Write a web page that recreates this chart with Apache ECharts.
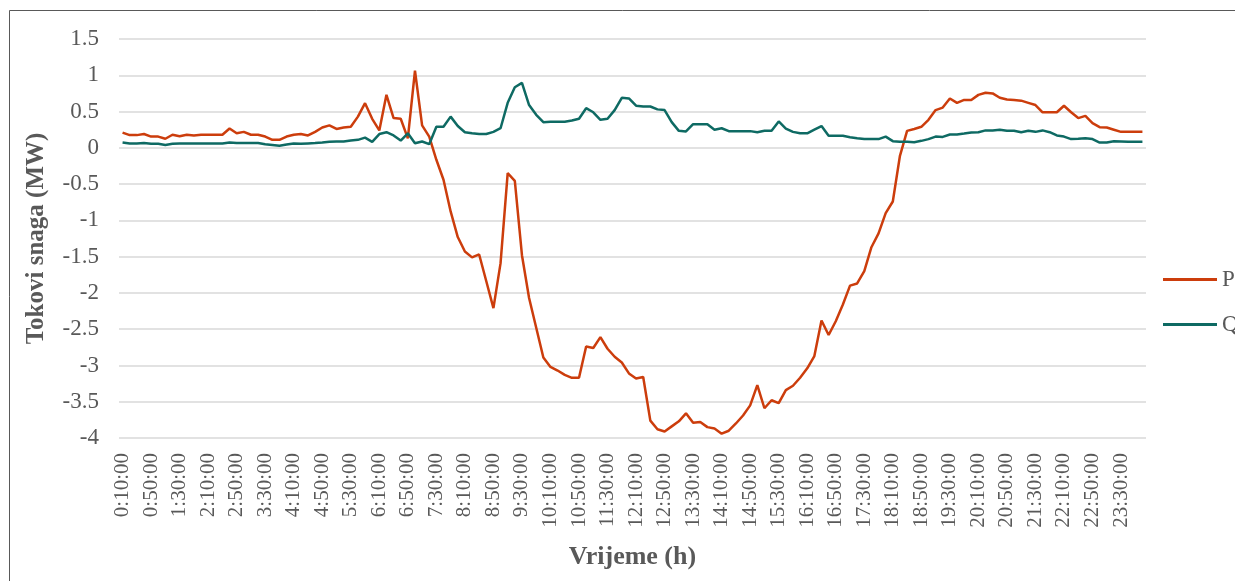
<!DOCTYPE html>
<html>
<head>
<meta charset="utf-8">
<script src="https://cdn.jsdelivr.net/npm/echarts@6/dist/echarts.min.js"></script>
<style>
html,body{margin:0;padding:0;background:#fff;}
#chart{width:1235px;height:581px;}
</style>
</head>
<body>
<div id="chart"></div>
<script>
const times = [
"0:10:00","0:20:00","0:30:00","0:40:00","0:50:00","1:00:00","1:10:00","1:20:00","1:30:00","1:40:00","1:50:00","2:00:00",
"2:10:00","2:20:00","2:30:00","2:40:00","2:50:00","3:00:00","3:10:00","3:20:00","3:30:00","3:40:00","3:50:00","4:00:00",
"4:10:00","4:20:00","4:30:00","4:40:00","4:50:00","5:00:00","5:10:00","5:20:00","5:30:00","5:40:00","5:50:00","6:00:00",
"6:10:00","6:20:00","6:30:00","6:40:00","6:50:00","7:00:00","7:10:00","7:20:00","7:30:00","7:40:00","7:50:00","8:00:00",
"8:10:00","8:20:00","8:30:00","8:40:00","8:50:00","9:00:00","9:10:00","9:20:00","9:30:00","9:40:00","9:50:00","10:00:00",
"10:10:00","10:20:00","10:30:00","10:40:00","10:50:00","11:00:00","11:10:00","11:20:00","11:30:00","11:40:00","11:50:00","12:00:00",
"12:10:00","12:20:00","12:30:00","12:40:00","12:50:00","13:00:00","13:10:00","13:20:00","13:30:00","13:40:00","13:50:00","14:00:00",
"14:10:00","14:20:00","14:30:00","14:40:00","14:50:00","15:00:00","15:10:00","15:20:00","15:30:00","15:40:00","15:50:00","16:00:00",
"16:10:00","16:20:00","16:30:00","16:40:00","16:50:00","17:00:00","17:10:00","17:20:00","17:30:00","17:40:00","17:50:00","18:00:00",
"18:10:00","18:20:00","18:30:00","18:40:00","18:50:00","19:00:00","19:10:00","19:20:00","19:30:00","19:40:00","19:50:00","20:00:00",
"20:10:00","20:20:00","20:30:00","20:40:00","20:50:00","21:00:00","21:10:00","21:20:00","21:30:00","21:40:00","21:50:00","22:00:00",
"22:10:00","22:20:00","22:30:00","22:40:00","22:50:00","23:00:00","23:10:00","23:20:00","23:30:00","23:40:00","23:50:00","0:00:00"
];

const P = [
0.21,0.175,0.175,0.19,0.155,0.155,0.125,0.18,0.16,0.18,0.17,0.18,
0.18,0.18,0.18,0.266,0.20,0.22,0.18,0.18,0.155,0.11,0.11,0.155,
0.18,0.19,0.17,0.22,0.28,0.31,0.26,0.28,0.29,0.43,0.615,0.40,
0.24,0.73,0.41,0.40,0.13,1.065,0.31,0.155,-0.165,-0.44,-0.877,-1.23,
-1.43,-1.51,-1.47,-1.84,-2.21,-1.59,-0.35,-0.455,-1.48,-2.07,-2.48,-2.89,
-3.02,-3.07,-3.13,-3.17,-3.17,-2.74,-2.76,-2.61,-2.77,-2.88,-2.96,-3.11,
-3.18,-3.16,-3.76,-3.88,-3.91,-3.84,-3.77,-3.66,-3.79,-3.78,-3.85,-3.87,
-3.94,-3.90,-3.80,-3.69,-3.55,-3.27,-3.59,-3.48,-3.52,-3.34,-3.28,-3.17,
-3.04,-2.87,-2.38,-2.58,-2.39,-2.16,-1.90,-1.87,-1.70,-1.37,-1.18,-0.90,
-0.74,-0.11,0.234,0.26,0.29,0.386,0.52,0.555,0.68,0.62,0.66,0.66,
0.73,0.76,0.75,0.69,0.665,0.66,0.65,0.62,0.59,0.49,0.49,0.49,
0.58,0.49,0.41,0.44,0.34,0.285,0.28,0.25,0.22,0.22,0.22,0.22
];

const Q = [
0.073,0.06,0.06,0.065,0.055,0.055,0.04,0.055,0.06,0.06,0.06,0.06,
0.06,0.06,0.06,0.073,0.065,0.065,0.065,0.065,0.05,0.04,0.03,0.045,
0.06,0.055,0.06,0.065,0.073,0.083,0.087,0.087,0.10,0.11,0.14,0.083,
0.19,0.215,0.17,0.10,0.20,0.063,0.087,0.05,0.29,0.29,0.43,0.30,
0.215,0.20,0.19,0.19,0.22,0.27,0.62,0.835,0.895,0.59,0.455,0.354,
0.36,0.36,0.36,0.376,0.40,0.546,0.49,0.386,0.40,0.52,0.69,0.68,
0.58,0.57,0.57,0.53,0.52,0.354,0.234,0.225,0.326,0.326,0.326,0.25,
0.27,0.23,0.23,0.23,0.23,0.215,0.235,0.235,0.363,0.266,0.22,0.20,
0.20,0.25,0.30,0.165,0.165,0.165,0.147,0.133,0.12,0.12,0.12,0.155,
0.092,0.083,0.083,0.078,0.096,0.12,0.155,0.15,0.183,0.183,0.196,0.21,
0.215,0.24,0.24,0.25,0.235,0.235,0.215,0.235,0.22,0.24,0.215,0.17,
0.155,0.12,0.125,0.133,0.12,0.073,0.073,0.09,0.087,0.083,0.083,0.083
];

const yMin = -4, yMax = 1.5, yStep = 0.5;
const FONT = "'Liberation Serif','Times New Roman',serif";
const GREY = '#595959';

const chart = echarts.init(document.getElementById('chart'), null, {renderer:'canvas'});
chart.setOption({
  animation: false,
  backgroundColor: '#fff',
  grid: {left:119, right:89, top:39, bottom:143, containLabel:false},
  graphic: [{
    type:'rect', shape:{x:9.5, y:10.5, width:1240, height:600},
    style:{fill:'none', stroke:GREY, lineWidth:1}, silent:true, z:-1
  }],
  legend: {
    orient:'vertical', left:1158, top:263, itemWidth:54, itemHeight:3, itemGap:22,
    icon:'rect',
    textStyle:{fontFamily:FONT, fontSize:23, color:GREY},
    data:['P','Q']
  },
  xAxis: {
    type:'category', data:times, boundaryGap:true,
    axisLine:{show:false}, axisTick:{show:false},
    axisLabel:{rotate:90, interval:3, margin:15, fontFamily:FONT, fontSize:21, color:GREY},
    name:'Vrijeme (h)', nameLocation:'middle', nameGap:106,
    nameTextStyle:{fontFamily:FONT, fontSize:26, fontWeight:'bold', color:GREY}
  },
  yAxis: {
    type:'value', min:yMin, max:yMax, interval:yStep,
    axisLine:{show:false}, axisTick:{show:false},
    splitLine:{lineStyle:{color:'#D9D9D9', width:1.5}},
    axisLabel:{margin:20, fontFamily:FONT, fontSize:23, color:GREY},
    name:'Tokovi snaga (MW)', nameLocation:'middle', nameGap:70,
    nameTextStyle:{fontFamily:FONT, fontSize:25, fontWeight:'bold', color:GREY}
  },
  series: [
    {name:'P', type:'line', data:P, symbol:'none', lineStyle:{color:'#CC3D0C', width:2.5}, itemStyle:{color:'#CC3D0C'}},
    {name:'Q', type:'line', data:Q, symbol:'none', lineStyle:{color:'#0E6A63', width:2.5}, itemStyle:{color:'#0E6A63'}}
  ]
});
</script>
</body>
</html>
